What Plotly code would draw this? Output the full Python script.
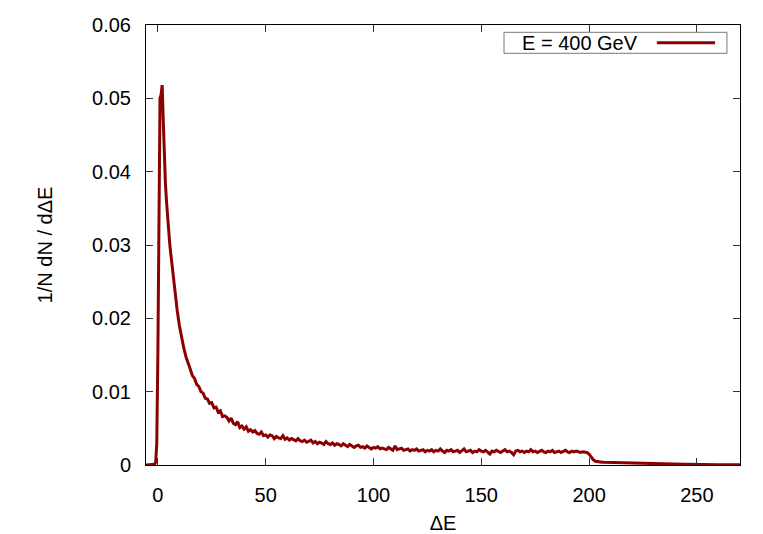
import plotly.graph_objects as go

# Peak region (irregular spacing)
x_peak = [-5.5, -5, -4, -3, -2, -1.5, -1, -0.5, 0, 0.5, 1, 1.5, 2, 2.5, 3, 3.5, 4, 4.5,
          5, 5.5, 6, 7, 8, 9, 10, 11, 12, 13, 14]
y_peak = [0, 0, 0, 0, 0, 0.0001, 0.0004, 0.003, 0.015, 0.042, 0.0500, 0.0505, 0.0518,
          0.0470, 0.0420, 0.0385, 0.0360, 0.0338, 0.0318, 0.0302, 0.0288, 0.0260, 0.0235,
          0.0210, 0.0190, 0.0174, 0.0160, 0.0148, 0.0138]

# Tail region, one value per unit of Delta E, from 15 to 270
tail_start = 15
y_tail = [
    0.0131, 0.0122, 0.0118, 0.0110, 0.0107, 0.0100, 0.0098, 0.0091, 0.0090, 0.0084,
    0.0085, 0.0078, 0.0079, 0.0072, 0.0074, 0.0066, 0.0067, 0.0065, 0.0060, 0.0064,
    0.0057, 0.0055, 0.0059, 0.0051, 0.0053, 0.0049, 0.0052, 0.0046, 0.0048, 0.0045,
    0.0047, 0.0043, 0.0042, 0.0045, 0.0040, 0.0041, 0.0038, 0.0041, 0.0040, 0.0036,
    0.0039, 0.0037, 0.0036, 0.0040, 0.0035, 0.0037, 0.0034, 0.0036, 0.0035, 0.0033,
    0.0036, 0.0033, 0.0032, 0.0034, 0.0031, 0.0033, 0.0034, 0.0030, 0.0032, 0.0029,
    0.0031, 0.0030, 0.0028, 0.0032, 0.0029, 0.0028, 0.0030, 0.0027, 0.0029, 0.0028,
    0.0026, 0.0029, 0.0027, 0.0025, 0.0028, 0.0026, 0.0024, 0.0026, 0.0027, 0.0024,
    0.0025, 0.0023, 0.0026, 0.0024, 0.0022, 0.0024, 0.0023, 0.0025, 0.0022, 0.0023,
    0.0022, 0.0021, 0.0024, 0.0022, 0.0020, 0.0026, 0.0021, 0.0022, 0.0023, 0.0020,
    0.0021, 0.0022, 0.0019, 0.0021, 0.0020, 0.0022, 0.0019, 0.0020, 0.0021, 0.0018,
    0.0020, 0.0019, 0.0021, 0.0018, 0.0020, 0.0019, 0.0022, 0.0019, 0.0017, 0.0020,
    0.0019, 0.0021, 0.0018, 0.0019, 0.0020, 0.0017, 0.0019, 0.0022, 0.0018, 0.0019,
    0.0020, 0.0017, 0.0019, 0.0018, 0.0021, 0.0019, 0.0018, 0.0020, 0.0018, 0.0015,
    0.0019, 0.0018, 0.0020, 0.0019, 0.0017, 0.0019, 0.0021, 0.0018, 0.0019, 0.0017,
    0.0014, 0.0019, 0.0020, 0.0018, 0.0019, 0.0017, 0.0019, 0.0018, 0.0021, 0.0018,
    0.0019, 0.0017, 0.0018, 0.0020, 0.0018, 0.0017, 0.0019, 0.0018, 0.0020, 0.0017,
    0.0018, 0.0019, 0.0017, 0.0018, 0.0020, 0.0018, 0.0017, 0.0019, 0.0018, 0.0019,
    0.0018, 0.0017, 0.0018, 0.0018, 0.0017, 0.0015, 0.0011, 0.0007, 0.00052, 0.00045,
    0.00040, 0.00038, 0.00036, 0.00035, 0.00034, 0.00033, 0.00032, 0.00031, 0.00030, 0.00029,
    0.00028, 0.00028, 0.00027, 0.00026, 0.00025, 0.00025, 0.00024, 0.00023, 0.00022, 0.00022,
    0.00021, 0.00020, 0.00020, 0.00019, 0.00018, 0.00018, 0.00017, 0.00016, 0.00016, 0.00015,
    0.00015, 0.00014, 0.00014, 0.00013, 0.00013, 0.00012, 0.00012, 0.00011, 0.00011, 0.00010,
    0.00010, 0.00009, 0.00009, 0.00009, 0.00008, 0.00008, 0.00008, 0.00007, 0.00007, 0.00007,
    0.00006, 0.00006, 0.00006, 0.00006, 0.00005, 0.00005, 0.00005, 0.00005, 0.00005, 0.00004,
    0.00004, 0.00004, 0.00004, 0.00004, 0.00004, 0.00004,
]
x_tail = list(range(tail_start, tail_start + len(y_tail)))

x_vals = x_peak + x_tail
y_vals = y_peak + y_tail

x_ticks = [0, 50, 100, 150, 200, 250]
y_ticks = [0, 0.01, 0.02, 0.03, 0.04, 0.05, 0.06]
y_tick_labels = ["0", "0.01", "0.02", "0.03", "0.04", "0.05", "0.06"]

series_name = "E = 400 GeV"
line_color = "#8b0000"
font_family = "Liberation Sans, Arial, sans-serif"

fig = go.Figure()
fig.add_trace(go.Scatter(x=x_vals, y=y_vals, mode="lines", name=series_name,
                         line=dict(color=line_color, width=3), showlegend=False))

axis_common = dict(showline=True, linecolor="black", linewidth=1, mirror="ticks",
                   ticks="inside", ticklen=7, tickcolor="#333", tickwidth=1,
                   showgrid=False, zeroline=False,
                   tickfont=dict(family=font_family, size=20, color="black"))

fig.update_xaxes(range=[-5.5, 270], tickvals=x_ticks, ticklabelstandoff=12,
                 title=dict(text="ΔE", standoff=18,
                            font=dict(family=font_family, size=20, color="black")),
                 **axis_common)
fig.update_yaxes(range=[0, 0.06], tickvals=y_ticks, ticktext=y_tick_labels,
                 ticklabelstandoff=10,
                 title=dict(text="1/N dN / dΔE", standoff=34,
                            font=dict(family=font_family, size=20, color="black")),
                 **axis_common)

# gnuplot-style key: text on the left, line sample on the right, inside a thin box
fig.add_shape(type="rect", xref="paper", yref="paper", x0=0.6027, x1=0.978,
              y0=0.9357, y1=0.9834, line=dict(color="#777", width=1), fillcolor="white")
fig.add_shape(type="line", xref="paper", yref="paper", x0=0.860, x1=0.958,
              y0=0.9595, y1=0.9595, line=dict(color=line_color, width=3))
fig.add_annotation(text=series_name, xref="paper", yref="paper", x=0.6296, y=0.9595,
                   xanchor="left", yanchor="middle", showarrow=False,
                   font=dict(family=font_family, size=20, color="black"))

# the page body adds an 8 px offset, so the figure is 8 px smaller and margins shifted
fig.update_layout(width=755, height=526,
                  margin=dict(l=138, r=23, t=17, b=69, autoexpand=False),
                  plot_bgcolor="white", paper_bgcolor="white",
                  font=dict(family=font_family, size=20, color="black"))

fig.write_html("out.html")
